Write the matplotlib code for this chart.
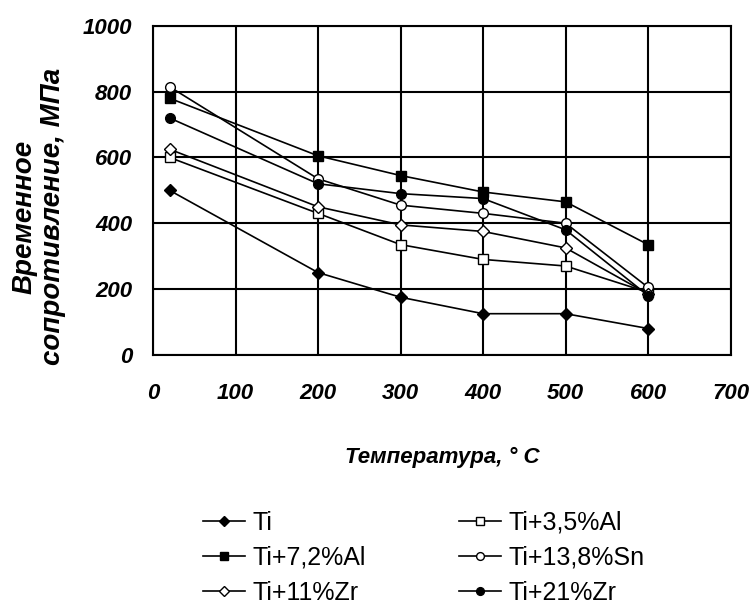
import matplotlib.pyplot as plt
import numpy as np

plt.rcParams['font.family'] = ['Liberation Sans', 'DejaVu Sans']

# температура, °C
temp = [20, 200, 300, 400, 500, 600]

# временное сопротивление, МПа
ti = [500, 250, 175, 125, 125, 80]
ti_al35 = [600, 430, 335, 290, 270, 190]
ti_al72 = [780, 605, 545, 495, 465, 335]
ti_sn = [815, 535, 455, 430, 400, 205]
ti_zr11 = [625, 450, 395, 375, 325, 185]
ti_zr21 = [720, 520, 490, 475, 380, 180]

fig = plt.figure(figsize=(7.54, 6.16), dpi=100)
ax = fig.add_axes([0.203, 0.424, 0.766, 0.534])

lw = 1.2
ms = 7
l1, = ax.plot(temp, ti, '-D', color='k', lw=lw, ms=ms - 1, mfc='k', label='Ti')
l2, = ax.plot(temp, ti_al35, '-s', color='k', lw=lw, ms=ms, mfc='white', label='Ti+3,5%Al')
l3, = ax.plot(temp, ti_al72, '-s', color='k', lw=lw, ms=ms, mfc='k', label='Ti+7,2%Al')
l4, = ax.plot(temp, ti_sn, '-o', color='k', lw=lw, ms=ms, mfc='white', label='Ti+13,8%Sn')
l5, = ax.plot(temp, ti_zr11, '-D', color='k', lw=lw, ms=ms - 1, mfc='white', label='Ti+11%Zr')
l6, = ax.plot(temp, ti_zr21, '-o', color='k', lw=lw, ms=ms, mfc='k', label='Ti+21%Zr')

ax.set_xlim(0, 700)
ax.set_ylim(0, 1000)
ax.set_xticks(np.arange(0, 701, 100))
ax.set_yticks(np.arange(0, 1001, 200))
ax.grid(True, color='k', lw=1.5)
ax.set_axisbelow(True)
for s in ax.spines.values():
    s.set_linewidth(1.5)
ax.tick_params(length=0, labelsize=16)
ax.tick_params(axis='x', pad=20)
ax.tick_params(axis='y', pad=15)
for t in ax.get_xticklabels() + ax.get_yticklabels():
    t.set_fontweight('bold')
    t.set_fontstyle('italic')

ax.set_xlabel('Температура, ° С', fontsize=16, fontweight='bold', fontstyle='italic')
ax.xaxis.set_label_coords(0.5, -0.28)
ax.set_ylabel('Временное\nсопротивление, МПа', fontsize=20, fontweight='bold',
              fontstyle='italic', linespacing=1.15)
ax.yaxis.set_label_coords(-0.15, 0.42)

# легенда: порядок как в оригинале (по строкам)
handles = [l1, l3, l5, l2, l4, l6]
fig.legend(handles=handles, labels=[h.get_label() for h in handles], ncol=2,
           loc='upper left', bbox_to_anchor=(0.269, 0.171), frameon=False,
           borderpad=0, borderaxespad=0,
           fontsize=18, handlelength=1.7, markerscale=0.8, columnspacing=3.7,
           labelspacing=0.45, handletextpad=0.3)

plt.savefig('out.png', dpi=100)
